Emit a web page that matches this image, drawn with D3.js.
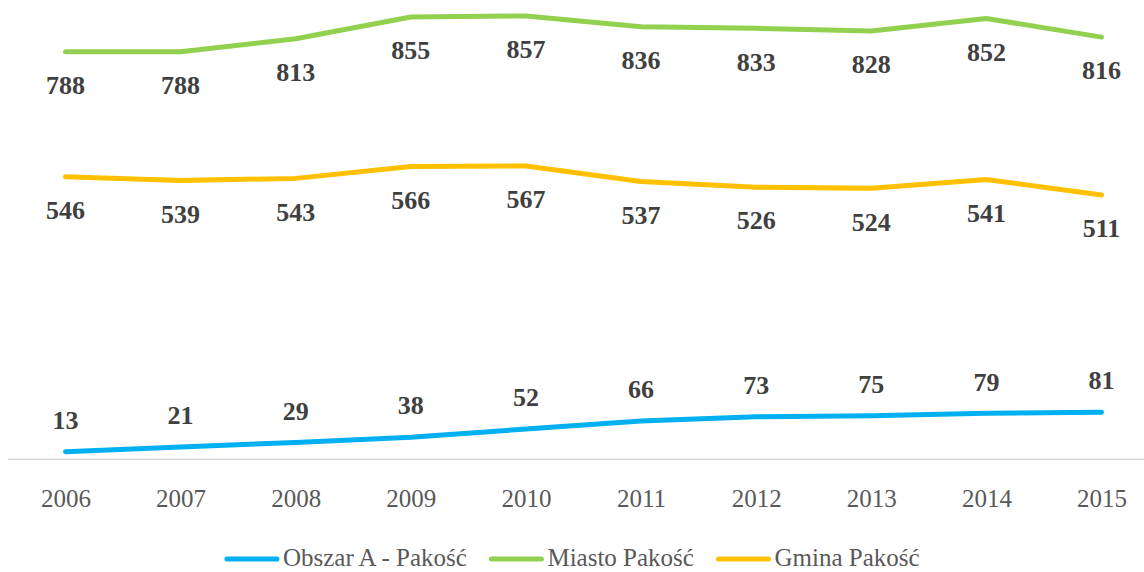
<!DOCTYPE html>
<html><head><meta charset="utf-8">
<script src="https://cdn.jsdelivr.net/npm/d3@7"></script>
<style>
html,body{margin:0;padding:0;background:#fff;}
svg{display:block;}
</style></head>
<body>
<svg id="chart" width="1144" height="572"></svg>
<script>
const years = ["2006","2007","2008","2009","2010","2011","2012","2013","2014","2015"];
const obszarA = [13,21,29,38,52,66,73,75,79,81];
const miasto = [788,788,813,855,857,836,833,828,852,816];
const gmina = [546,539,543,566,567,537,526,524,541,511];
const seriesNames = ["Obszar A - Pakość","Miasto Pakość","Gmina Pakość"];
const seriesColors = ["#00B0F0","#92D050","#FFC000"];

const W = 1144, H = 572;
const svg = d3.select("#chart");
const x = d3.scalePoint().domain(years).range([65.5, 1101.5]);
const yMain = d3.scaleLinear().domain([0, 900]).range([459.3, -6.3]);
const ySec = d3.scaleLinear().domain([0, 800]).range([459.3, -6.3]);

// axis baseline
const xAxis = d3.axisBottom(x).tickSize(0).tickPadding(0);
const gx = svg.append("g").attr("transform", "translate(0,459.3)").call(xAxis);
gx.select(".domain").attr("d", "M8,0H1144").attr("stroke", "#D9D9D9").attr("stroke-width", 1.5);
gx.selectAll(".tick text")
  .attr("dy", null).attr("y", 48)
  .attr("fill", "#595959")
  .style("font-family", "'Liberation Serif', serif")
  .style("font-size", "25px");

const series = [
  {name: seriesNames[1], values: miasto, color: seriesColors[1], y: yMain, off: 42.3},
  {name: seriesNames[2], values: gmina, color: seriesColors[2], y: yMain, off: 42.3},
  {name: seriesNames[0], values: obszarA, color: seriesColors[0], y: ySec, off: -22.7}
];

series.forEach(s => {
  const line = d3.line().x((d,i) => x(years[i])).y(d => s.y(d));
  svg.append("path").datum(s.values)
    .attr("d", line)
    .attr("fill", "none")
    .attr("stroke", s.color)
    .attr("stroke-width", 5)
    .attr("stroke-linecap", "round")
    .attr("stroke-linejoin", "round");
  svg.append("g").selectAll("text").data(s.values).join("text")
    .attr("x", (d,i) => x(years[i]))
    .attr("y", d => s.y(d) + s.off)
    .attr("text-anchor", "middle")
    .attr("fill", "#404040")
    .style("font-family", "'Liberation Serif', serif")
    .style("font-weight", "bold")
    .style("font-size", "26px")
    .text(d => d);
});

// legend
const leg = svg.append("g");
const items = seriesNames.map((n,i) => ({name:n, color:seriesColors[i]}));
let cx = 0;
const lineLen = 50, gapAfterLine = 6, itemGap = 22;
items.forEach(it => {
  const g = leg.append("g").attr("transform", `translate(${cx},0)`);
  g.append("line").attr("x1", 2.5).attr("x2", 2.5 + lineLen).attr("y1", 559).attr("y2", 559)
    .attr("stroke", it.color).attr("stroke-width", 5).attr("stroke-linecap", "round");
  const t = g.append("text").attr("x", 2.5 + lineLen + gapAfterLine).attr("y", 566)
    .attr("fill", "#595959")
    .style("font-family", "'Liberation Serif', serif")
    .style("font-size", "25px")
    .text(it.name);
  const w = t.node().getComputedTextLength();
  cx += 2.5 + lineLen + gapAfterLine + w + itemGap;
});
const total = cx - itemGap;
leg.attr("transform", `translate(${(W - total)/2},0)`);
</script>
</body></html>
